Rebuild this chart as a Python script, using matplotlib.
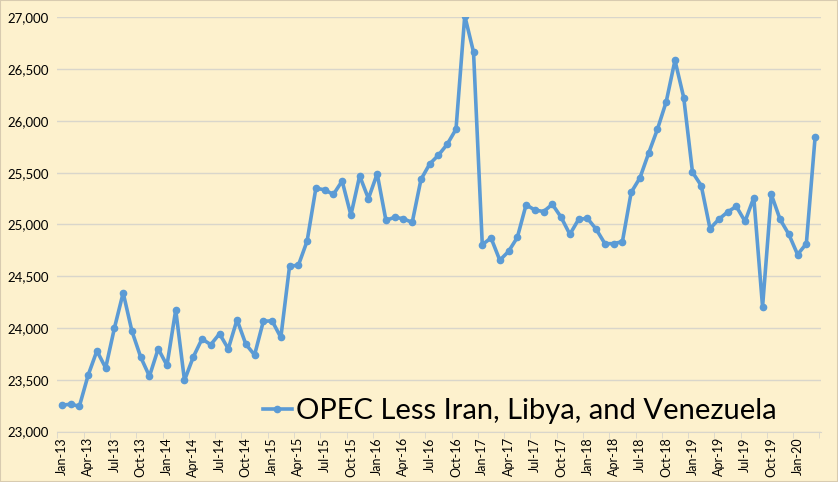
import numpy as np
import pandas as pd
import matplotlib
matplotlib.use('Agg')
import matplotlib.pyplot as plt
from matplotlib.ticker import FuncFormatter, FixedLocator

### data (kb/d), Jan-13 .. Mar-20 ###
months = pd.date_range('2013-01-01', '2020-03-01', freq='MS')
series_name = 'OPEC Less Iran, Libya, and Venezuela'
production = [
    23255, 23265, 23245, 23545, 23780, 23615, 24000, 24340, 23970, 23720, 23535, 23800,
    23640, 24175, 23495, 23720, 23895, 23840, 23945, 23800, 24080, 23845, 23740, 24065,
    24070, 23910, 24600, 24605, 24840, 25350, 25335, 25290, 25420, 25090, 25470, 25250,
    25490, 25040, 25070, 25055, 25020, 25435, 25585, 25670, 25775, 25920, 27015, 26665,
    24805, 24870, 24655, 24740, 24875, 25190, 25140, 25125, 25195, 25070, 24905, 25050,
    25060, 24955, 24815, 24815, 24835, 25310, 25450, 25690, 25920, 26185, 26585, 26225,
    25505, 25375, 24960, 25050, 25120, 25175, 25030, 25260, 24205, 25290, 25050, 24905,
    24710, 24815, 25845,
]
tick_labels = [d.strftime('%b-%y') for d in months]

bg = '#FDF1CD'
blue = '#5B9BD5'
grid_c = '#D9D6CB'

plt.rcParams['font.family'] = ['Lato', 'DejaVu Sans']

fig = plt.figure(figsize=(8.38, 4.82), dpi=100, facecolor=bg)
ax = fig.add_axes([0.0686, 0.1045, 0.9114, 0.8595])
ax.set_facecolor(bg)

x = np.arange(len(production))
ax.plot(x, production, color=blue, lw=2.6, marker='o', ms=4.5, label=series_name,
        solid_joinstyle='round', zorder=3)

ax.set_ylim(23000, 27000)
ax.set_yticks(np.arange(23000, 27001, 500))
ax.yaxis.set_major_formatter(FuncFormatter(lambda v, p: f'{int(v):,}'))
ax.set_xlim(-0.5, len(production) - 0.5 + 0.2)

ax.set_xticks(x[::3])
ax.set_xticklabels(tick_labels[::3], rotation=90)
ax.xaxis.set_minor_locator(FixedLocator(np.arange(-0.5, len(production), 3)))
ax.tick_params(axis='x', which='major', length=0, pad=4, labelsize=9)
ax.tick_params(axis='x', which='minor', length=4, color=grid_c)
ax.tick_params(axis='y', length=0, pad=6, labelsize=9.5)

ax.grid(axis='y', color=grid_c, lw=1)
ax.set_axisbelow(True)
for s in ['top', 'right', 'left']:
    ax.spines[s].set_visible(False)
ax.spines['bottom'].set_color(grid_c)

ax.legend(loc='lower left', bbox_to_anchor=(0.246, -0.025), frameon=False,
          fontsize=21, handlelength=1.0, handletextpad=0.12, borderaxespad=0.2)

# thin outer border like the chart frame
fig.patches.append(plt.Rectangle((0, 0), 1, 1, transform=fig.transFigure,
                                 fill=False, edgecolor='#D8CBB0', lw=1.5))

plt.savefig('out.png', dpi=100, facecolor=bg)
